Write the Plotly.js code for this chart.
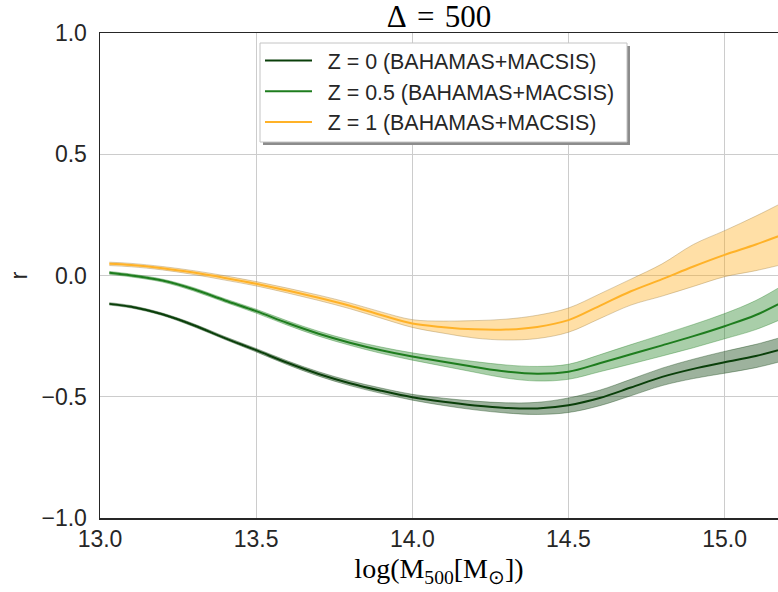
<!DOCTYPE html>
<html><head><meta charset="utf-8">
<script src="https://cdn.plot.ly/plotly-3.0.1.min.js"></script>
<style>html,body{margin:0;padding:0;background:#fff}</style>
</head><body><div id="chart" style="width:778px;height:592px"></div>
<script>
const logM = [13.03, 13.1, 13.2, 13.3, 13.4, 13.5, 13.6, 13.7, 13.8, 13.9, 14.0, 14.1, 14.2, 14.3, 14.4, 14.5, 14.6, 14.7, 14.8, 14.9, 15.0, 15.1, 15.2];

const z0Mid = [-0.117, -0.129, -0.160, -0.205, -0.258, -0.308, -0.360, -0.406, -0.444, -0.475, -0.502, -0.521, -0.536, -0.546, -0.548, -0.535, -0.505, -0.462, -0.418, -0.385, -0.358, -0.332, -0.298];
const z0Hi  = [-0.112, -0.124, -0.155, -0.199, -0.252, -0.301, -0.352, -0.397, -0.434, -0.464, -0.490, -0.506, -0.518, -0.525, -0.523, -0.505, -0.473, -0.428, -0.382, -0.345, -0.313, -0.284, -0.248];
const z0Lo  = [-0.122, -0.134, -0.165, -0.211, -0.264, -0.315, -0.368, -0.415, -0.454, -0.486, -0.514, -0.536, -0.554, -0.567, -0.573, -0.565, -0.537, -0.496, -0.454, -0.425, -0.403, -0.380, -0.348];

const z05Mid = [0.011, 0.000, -0.021, -0.057, -0.103, -0.147, -0.196, -0.240, -0.277, -0.308, -0.334, -0.356, -0.377, -0.396, -0.405, -0.397, -0.362, -0.325, -0.288, -0.250, -0.209, -0.163, -0.100];
const z05Hi  = [0.017, 0.006, -0.015, -0.050, -0.096, -0.139, -0.187, -0.230, -0.266, -0.295, -0.319, -0.338, -0.355, -0.369, -0.375, -0.366, -0.327, -0.285, -0.244, -0.202, -0.157, -0.103, -0.030];
const z05Lo  = [0.005, -0.006, -0.027, -0.064, -0.110, -0.155, -0.205, -0.250, -0.288, -0.321, -0.349, -0.374, -0.399, -0.423, -0.435, -0.428, -0.397, -0.365, -0.332, -0.298, -0.261, -0.223, -0.170];

const z1Mid = [0.048, 0.043, 0.030, 0.012, -0.010, -0.034, -0.062, -0.092, -0.125, -0.163, -0.198, -0.213, -0.222, -0.223, -0.212, -0.184, -0.125, -0.065, -0.015, 0.037, 0.085, 0.128, 0.175];
const z1Hi  = [0.055, 0.050, 0.037, 0.020, -0.001, -0.025, -0.052, -0.081, -0.113, -0.150, -0.182, -0.188, -0.186, -0.180, -0.164, -0.134, -0.076, -0.015, 0.048, 0.128, 0.185, 0.245, 0.310];
const z1Lo  = [0.041, 0.036, 0.023, 0.004, -0.019, -0.043, -0.072, -0.103, -0.137, -0.176, -0.214, -0.238, -0.258, -0.266, -0.260, -0.234, -0.178, -0.122, -0.085, -0.045, -0.005, 0.020, 0.050];

const seriesNames = ['Z = 0 (BAHAMAS+MACSIS)', 'Z = 0.5 (BAHAMAS+MACSIS)', 'Z = 1 (BAHAMAS+MACSIS)'];
const yTickVals = [-1.0, -0.5, 0.0, 0.5, 1.0];
const xTickVals = [13.0, 13.5, 14.0, 14.5, 15.0];

const styles = [
  {line: 'rgb(10,63,10)', fill: 'rgba(10,63,10,0.40)', edge: 'rgba(10,63,10,0.45)'},
  {line: 'rgb(30,125,30)', fill: 'rgba(30,125,30,0.38)', edge: 'rgba(30,125,30,0.45)'},
  {line: 'rgb(255,178,40)', fill: 'rgba(255,170,20,0.38)', edge: 'rgba(150,120,60,0.45)'}
];
const data = [[z0Mid, z0Lo, z0Hi], [z05Mid, z05Lo, z05Hi], [z1Mid, z1Lo, z1Hi]];
const SM = 1.0;

const traces = [];
data.forEach((d, i) => {
  const s = styles[i];
  traces.push({x: logM, y: d[1], type: 'scatter', mode: 'lines', line: {color: s.edge, width: 0.8, shape: 'spline', smoothing: SM}, showlegend: false, hoverinfo: 'skip'});
  traces.push({x: logM, y: d[2], type: 'scatter', mode: 'lines', fill: 'tonexty', fillcolor: s.fill, line: {color: s.edge, width: 0.8, shape: 'spline', smoothing: SM}, showlegend: false, hoverinfo: 'skip'});
});
data.forEach((d, i) => {
  const s = styles[i];
  traces.push({x: logM, y: d[0], type: 'scatter', mode: 'lines', name: '\u2002' + seriesNames[i], line: {color: s.line, width: 2, shape: 'spline', smoothing: SM}});
});

// pixel -> paper helpers for the legend frame
const px = v => (v - 100) / 678;
const py = v => (518 - v) / 485;

const layout = {
  width: 778, height: 592,
  margin: {l: 100, r: 0, t: 33, b: 74, pad: 0},
  paper_bgcolor: '#ffffff', plot_bgcolor: '#ffffff',
  font: {family: 'Liberation Sans, Arial, sans-serif', color: '#262626', size: 21},
  title: {text: 'Δ\u2004=\u2004500', font: {family: 'Liberation Serif, serif', size: 31, color: '#000'}, x: 0.5, xref: 'paper', xanchor: 'center', y: 1 - 16 / 592, yref: 'container', yanchor: 'middle'},
  xaxis: {
    range: [13.0, 15.171], autorange: false,
    tickvals: xTickVals, tickformat: '.1f',
    ticks: 'outside', ticklen: 0, tickcolor: 'rgba(0,0,0,0)',
    showgrid: true, gridcolor: '#cccccc', gridwidth: 1,
    showline: true, linecolor: '#262626', linewidth: 1.5, mirror: true,
    zeroline: false,
    tickfont: {size: 23, color: '#262626'},
    title: {text: 'log(M<sub>500</sub>[M<sub>⊙</sub>])', font: {family: 'Liberation Serif, serif', size: 28, color: '#000'}, standoff: 7}
  },
  yaxis: {
    range: [-1.0, 1.0], autorange: false,
    tickvals: yTickVals, tickformat: '.1f',
    ticks: 'outside', ticklen: 7, tickcolor: 'rgba(0,0,0,0)',
    showgrid: true, gridcolor: '#cccccc', gridwidth: 1,
    showline: true, linecolor: '#262626', linewidth: 1.5, mirror: false,
    zeroline: false,
    tickfont: {size: 23, color: '#262626'},
    title: {text: 'r', font: {size: 24, color: '#262626'}, standoff: 7}
  },
  legend: {
    x: px(260), y: py(40), xanchor: 'left', yanchor: 'top',
    bgcolor: 'rgba(0,0,0,0)', borderwidth: 0,
    font: {size: 21.4, color: '#262626'},
    itemwidth: 47,
    traceorder: 'normal'
  },
  shapes: [
    {type: 'rect', xref: 'paper', yref: 'paper', x0: px(263), x1: px(630), y0: py(145), y1: py(46), fillcolor: '#8c8c8c', line: {width: 0}, layer: 'above'},
    {type: 'rect', xref: 'paper', yref: 'paper', x0: px(260), x1: px(627), y0: py(142), y1: py(43), fillcolor: '#ffffff', line: {width: 1, color: '#c4c4c4'}, layer: 'above'}
  ],
  showlegend: true
};

Plotly.newPlot('chart', traces, layout, {displayModeBar: false, staticPlot: true});
</script>
</body></html>
